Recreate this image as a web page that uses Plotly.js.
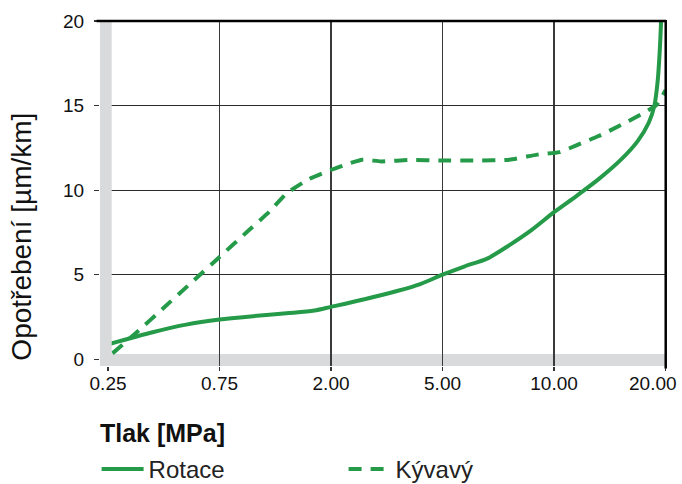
<!DOCTYPE html>
<html>
<head>
<meta charset="utf-8">
<script src="https://cdn.plot.ly/plotly-3.0.1.min.js"></script>
<style>html,body{margin:0;padding:0;background:#fff;}#chart{width:682px;height:484px;}</style>
</head>
<body>
<div id="chart"></div>
<script>
// Pressure categories (equally spaced on the axis)
const tickLabels = ['0.25', '0.75', '2.00', '5.00', '10.00', '20.00'];
const tickPositions = [0, 1, 2, 3, 4, 5];
const yTicks = [0, 5, 10, 15, 20];

// Rotace (solid) – position along pressure axis, wear [µm/km]
const rotaceX = [0.02, 0.4, 0.7, 1.0, 1.3, 1.6, 1.85, 2.0, 2.3, 2.6, 2.8, 3.0, 3.2, 3.4, 3.6, 3.8, 4.0, 4.2, 4.4, 4.6, 4.75, 4.85, 4.9, 4.93, 4.95, 4.96];
const rotaceY = [0.92, 1.6, 2.05, 2.35, 2.55, 2.72, 2.88, 3.1, 3.55, 4.05, 4.45, 5.0, 5.5, 5.95, 6.75, 7.65, 8.7, 9.65, 10.65, 11.8, 12.9, 14.0, 15.0, 16.5, 18.5, 20.0];

// Kývavý (dashed)
const kyvavyX = [0.04, 0.25, 0.5, 0.75, 1.0, 1.25, 1.45, 1.6, 1.8, 2.0, 2.15, 2.28, 2.45, 2.7, 3.0, 3.3, 3.6, 3.85, 4.05, 4.2, 4.4, 4.6, 4.8, 4.92, 5.0];
const kyvavyY = [0.35, 1.55, 3.05, 4.55, 6.05, 7.55, 8.75, 9.8, 10.65, 11.2, 11.55, 11.8, 11.7, 11.78, 11.75, 11.75, 11.8, 12.1, 12.25, 12.65, 13.2, 13.85, 14.55, 15.05, 15.9];

const seriesNames = ['Rotace', 'Kývavý'];
const xTitle = 'Tlak [MPa]';
const yTitle = 'Opotřebení [µm/km]';

const green = '#259b49';
const band = '#d9dadc';
const font = 'Liberation Sans, Arial, Helvetica, sans-serif';
const xRange = [-0.072, 5.004];
const yRange = [-0.396, 20];
const last = tickLabels.length - 1;

// the last label is drawn right-aligned (below) so it stays inside the page, as in the original
const shownTicks = tickLabels.map((t, i) => i === last ? '' : t);

const traces = [
  {x: rotaceX, y: rotaceY, name: seriesNames[0], mode: 'lines',
   line: {color: green, width: 4, shape: 'spline', smoothing: 0.8}},
  {x: kyvavyX, y: kyvavyY, name: seriesNames[1], mode: 'lines', yaxis: 'y2',
   line: {color: green, width: 4, dash: '13px,9px', shape: 'spline', smoothing: 0.5}}
];

const layout = {
  width: 682, height: 484,
  margin: {l: 100, r: 16, t: 21, b: 118, autoexpand: false},
  paper_bgcolor: '#fff', plot_bgcolor: '#fff',
  font: {family: font, color: '#111'},
  showlegend: true,
  legend: {orientation: 'h', x: -0.006, xanchor: 'left', y: -0.3, yanchor: 'middle',
           font: {size: 24, color: '#222', family: font}, entrywidth: 190, itemwidth: 42},
  xaxis: {range: xRange, tickvals: tickPositions, ticktext: shownTicks,
          showgrid: true, gridcolor: '#3a3a3a', gridwidth: 1.3, zeroline: false, showline: false,
          ticks: 'outside', ticklen: 4, tickcolor: '#333', tickwidth: 1.3, ticklabelstandoff: -4,
          tickfont: {size: 19, color: '#111'}},
  yaxis: {range: yRange, tickvals: [5, 10, 15], showticklabels: false, ticks: '',
          showgrid: true, gridcolor: '#2a2a2a', gridwidth: 1.3, zeroline: false, showline: false},
  yaxis2: {range: yRange, overlaying: 'y', side: 'left', tickvals: yTicks,
           showgrid: false, zeroline: false, showline: false,
           ticks: 'outside', ticklen: 5, tickcolor: '#333', tickwidth: 1.3, ticklabelstandoff: 6,
           tickfont: {size: 19, color: '#111'}},
  shapes: [
    {type: 'rect', xref: 'x', yref: 'y', x0: xRange[0], x1: 5, y0: yRange[0], y1: 0.313,
     fillcolor: band, line: {width: 0}, layer: 'below'},
    {type: 'rect', xref: 'x', yref: 'y', x0: xRange[0], x1: 0.033, y0: yRange[0], y1: 20,
     fillcolor: band, line: {width: 0}, layer: 'above'},
    {type: 'line', xref: 'x domain', yref: 'y domain', x0: -0.006, x1: 1, y0: 1, y1: 1,
     line: {color: '#000', width: 2.5}, layer: 'above'},
    {type: 'line', xref: 'x domain', yref: 'y domain', x0: 0.9995, x1: 0.9995, y0: 1.003, y1: -0.007,
     line: {color: '#000', width: 2.5}, layer: 'above'}
  ],
  annotations: [
    {text: tickLabels[last], xref: 'x', yref: 'paper', x: tickPositions[last], y: -0.05,
     xanchor: 'right', yanchor: 'middle', xshift: 13, showarrow: false,
     font: {size: 19, color: '#111', family: font}},
    {text: xTitle, xref: 'paper', yref: 'paper', x: -0.003, y: -0.194, xanchor: 'left', yanchor: 'middle',
     showarrow: false, font: {size: 25, color: '#111', family: font, weight: 'bold'}},
    {text: yTitle, xref: 'paper', yref: 'paper', x: -0.1378, y: 0.375, xanchor: 'center', yanchor: 'middle',
     textangle: -90, showarrow: false, font: {size: 28, color: '#111', family: font}}
  ]
};

Plotly.newPlot('chart', traces, layout, {displayModeBar: false, staticPlot: true});
</script>
</body>
</html>
